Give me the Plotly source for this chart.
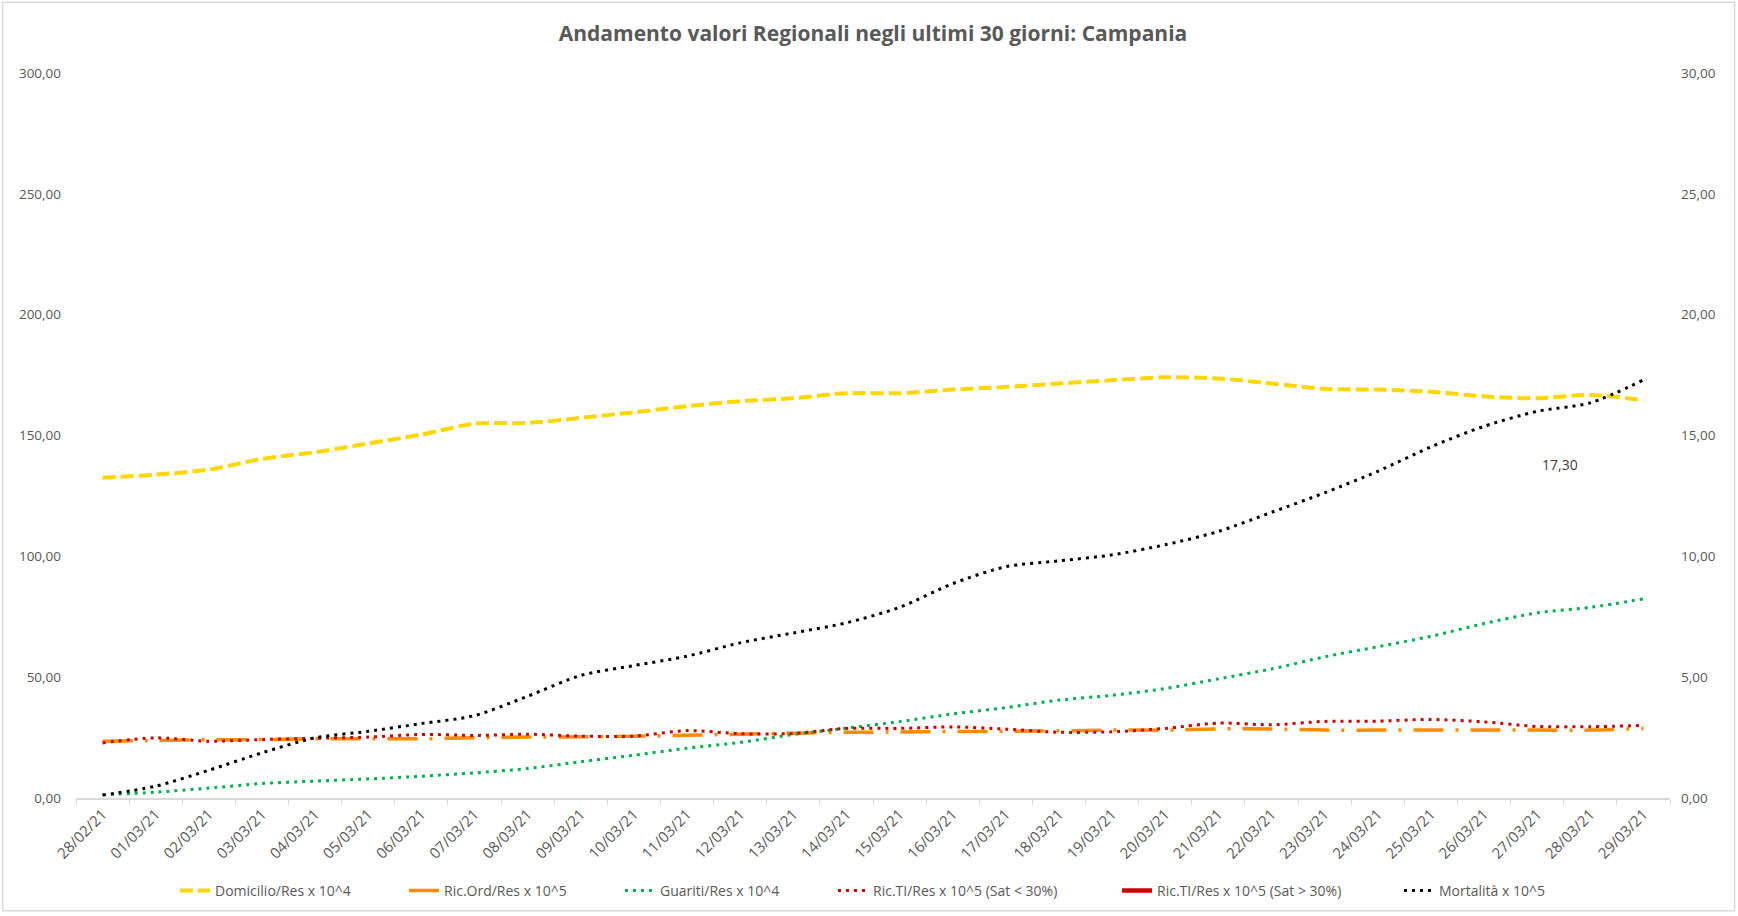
import plotly.graph_objects as go

# Dates (dd/mm/yy) of the last 30 days
dates = ["28/02/21"] + [f"{d:02d}/03/21" for d in range(1, 30)]

# Left axis series
domicilio = [132.5, 133.8, 135.9, 140.3, 143.1, 146.7, 150.4, 154.9, 155.2, 157.3,
             159.6, 162.1, 164.2, 165.4, 167.5, 167.5, 169.0, 170.1, 171.5, 172.9,
             174.1, 173.6, 171.5, 169.3, 169.0, 168.1, 166.2, 165.4, 166.8, 164.6]
ric_ord = [23.5, 23.8, 24.1, 24.2, 24.5, 24.5, 24.5, 24.9, 25.2, 25.3,
           25.6, 26.0, 26.4, 26.8, 27.2, 27.3, 27.5, 27.6, 27.8, 28.1,
           28.1, 28.6, 28.6, 28.1, 28.1, 28.1, 28.1, 28.1, 28.1, 28.8]
guariti = [1.3, 2.4, 4.1, 6.0, 7.0, 7.9, 9.0, 10.4, 12.2, 15.0,
           17.7, 20.6, 23.0, 26.3, 28.9, 31.6, 34.8, 37.4, 40.5, 42.5,
           45.3, 49.3, 53.4, 58.4, 62.6, 66.9, 72.2, 76.6, 78.9, 82.4]

# Right axis series
ric_ti_low = [2.28, 2.49, 2.35, 2.42, 2.47, 2.52, 2.63, 2.59, 2.64, 2.56,
              2.56, 2.79, 2.66, 2.67, 2.88, 2.88, 2.94, 2.85, 2.72, 2.74,
              2.88, 3.10, 3.03, 3.17, 3.18, 3.25, 3.15, 2.96, 2.95, 3.00]
ric_ti_high = [None] * 30
mortalita = [0.12, 0.49, 1.15, 1.87, 2.49, 2.76, 3.08, 3.41, 4.21, 5.07,
             5.48, 5.87, 6.42, 6.83, 7.25, 7.89, 8.87, 9.57, 9.81, 10.06,
             10.48, 11.03, 11.82, 12.63, 13.52, 14.53, 15.38, 16.00, 16.35, 17.30]

left_ticks = [0, 50, 100, 150, 200, 250, 300]
right_ticks = [0, 5, 10, 15, 20, 25, 30]

FONT = "Open Sans, Noto Sans, sans-serif"
GREY = "#595959"

# Page geometry of the plotting area (px)
PLOT_L, PLOT_R = 76, 68
PLOT_W = 1738 - PLOT_L - PLOT_R


def fmt(v):
    return f"{v:.2f}".replace(".", ",")


fig = go.Figure()

spline = dict(shape="spline", smoothing=0.8)

fig.add_trace(go.Scatter(x=dates, y=domicilio, name="Domicilio/Res x 10^4", mode="lines",
                         legend="legend",
                         line=dict(color="#FFD700", width=4, dash="13px,5px", **spline)))
fig.add_trace(go.Scatter(x=dates, y=ric_ord, name="Ric.Ord/Res x 10^5", mode="lines",
                         legend="legend2",
                         line=dict(color="#FF8C00", width=3.5, dash="30px,12px,3px,12px", **spline)))
fig.add_trace(go.Scatter(x=dates, y=guariti, name="Guariti/Res x 10^4", mode="lines",
                         legend="legend3",
                         line=dict(color="#00B050", width=3, dash="3px,5px", **spline)))
fig.add_trace(go.Scatter(x=dates, y=ric_ti_low, name="Ric.TI/Res x 10^5 (Sat < 30%)", mode="lines",
                         yaxis="y2", legend="legend4",
                         line=dict(color="#CC0000", width=3, dash="3px,5px", **spline)))
fig.add_trace(go.Scatter(x=dates, y=ric_ti_high, name="Ric.TI/Res x 10^5 (Sat > 30%)", mode="lines",
                         yaxis="y2", showlegend=True, legend="legend5",
                         line=dict(color="#CC0000", width=4.5)))
fig.add_trace(go.Scatter(x=dates, y=mortalita, name="Mortalità x 10^5", mode="lines",
                         yaxis="y2", legend="legend6",
                         line=dict(color="#000000", width=3, dash="3px,5px", **spline)))

# Value label for the last mortality point
fig.add_annotation(x=dates[-1], y=mortalita[-1], yref="y2", text=fmt(mortalita[-1]),
                   showarrow=False, xshift=-83, yshift=-85,
                   font=dict(family=FONT, size=14, color="#404040"))

# Chart border
fig.add_shape(type="rect", xref="paper", yref="paper",
              x0=-0.046, x1=1.0405, y0=-0.1555, y1=1.0975,
              line=dict(color="#D9D9D9", width=1.5), fillcolor="rgba(0,0,0,0)", layer="below")

# One legend box per series, laid out along the bottom
legend_px = [181, 410, 626, 839, 1123, 1405]
legend_boxes = {}
for i, px in enumerate(legend_px):
    key = "legend" if i == 0 else f"legend{i + 1}"
    legend_boxes[key] = dict(
        orientation="h", x=(px - 6 - PLOT_L) / PLOT_W, xanchor="left",
        y=-0.128, yanchor="middle", itemwidth=30,
        font=dict(family=FONT, size=14, color=GREY), bgcolor="rgba(0,0,0,0)",
    )

fig.update_layout(
    width=1738, height=916,
    margin=dict(l=PLOT_L, r=PLOT_R, t=73, b=118, autoexpand=False),
    paper_bgcolor="white", plot_bgcolor="white",
    separators=",.",
    title=dict(text="<b>Andamento valori Regionali negli ultimi 30 giorni: Campania</b>",
               x=0.5, xref="paper", xanchor="center", y=0.963, yanchor="middle",
               font=dict(family=FONT, size=21, color=GREY)),
    font=dict(family=FONT, color=GREY, size=13),
    showlegend=True,
    xaxis=dict(type="category", showgrid=False, showline=True, linecolor="#D9D9D9", linewidth=1.5,
               ticks="outside", tickson="boundaries", ticklen=5, tickcolor="#D9D9D9",
               tickangle=-45, tickfont=dict(family=FONT, size=15, color=GREY),
               range=[-0.5, len(dates) - 0.5], zeroline=False, automargin=False),
    yaxis=dict(range=[0, 300], tickvals=left_ticks, ticktext=[fmt(v) for v in left_ticks],
               showgrid=False, zeroline=False, showline=False, ticks="", automargin=False,
               ticklabelstandoff=14, tickfont=dict(family=FONT, size=13.5, color=GREY)),
    yaxis2=dict(range=[0, 30], tickvals=right_ticks, ticktext=[fmt(v) for v in right_ticks],
                overlaying="y", side="right", showgrid=False, zeroline=False, showline=False,
                ticks="", ticklabelstandoff=10, automargin=False,
                tickfont=dict(family=FONT, size=13.5, color=GREY)),
    **legend_boxes,
)

fig.write_html("out.html")
